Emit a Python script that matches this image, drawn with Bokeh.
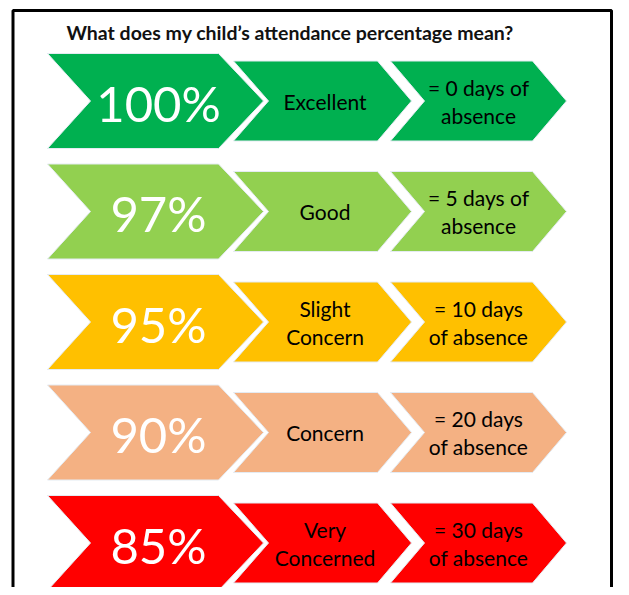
from bokeh.plotting import figure
from bokeh.models import Range1d, ColumnDataSource
from bokeh.core.properties import value
from bokeh.embed import file_html
from bokeh.resources import INLINE

# ---- data ----
title = "What does my child\u2019s attendance percentage mean?"
percentages = ["100%", "97%", "95%", "90%", "85%"]
ratings = ["Excellent", "Good", "Slight\nConcern", "Concern", "Very\nConcerned"]
absences = ["= 0 days of\nabsence", "= 5 days of\nabsence", "= 10 days\nof absence",
            "= 20 days\nof absence", "= 30 days\nof absence"]
colors = ["#00B050", "#92D050", "#FFC000", "#F4B183", "#FF0000"]

# ---- layout constants (reference pixel space) ----
W, H = 613, 587
ROW0, PITCH = 100.5, 110.5
BIG_HALF, SMALL_HALF = 47.5, 40
BIG = (47, 90, 218, 263)      # left, notch, right, tip
MID = (233, 268, 377, 411)
END = (390, 424, 532, 566)

p = figure(width=W, height=H, output_backend="svg", toolbar_location=None,
           x_range=Range1d(0, W), y_range=Range1d(H, 0),
           min_border=0, background_fill_color="white", border_fill_color="white")
p.axis.visible = False
p.grid.visible = False
p.outline_line_color = None

def chevron(shape, cy, half):
    l, n, r, t = shape
    xs = [l, r, t, r, l, n]
    ys = [cy - half, cy - half, cy, cy + half, cy + half, cy]
    return xs, ys

xs, ys, cols = [], [], []
big_x, mid_x, end_x, cys = [], [], [], []
for i, c in enumerate(colors):
    cy = ROW0 + PITCH * i
    cys.append(cy)
    for shape, half in ((BIG, BIG_HALF), (MID, SMALL_HALF), (END, SMALL_HALF)):
        x, y = chevron(shape, cy, half)
        xs.append(x); ys.append(y); cols.append(c)
    big_x.append((BIG[1] + BIG[2]) / 2 + 4)
    mid_x.append((MID[1] + MID[2]) / 2 + 2)
    end_x.append((END[1] + END[2]) / 2)

p.patches(xs=xs, ys=ys, fill_color=cols, line_color="#e4ebf2", line_width=1)

src = ColumnDataSource(dict(bx=big_x, mx=mid_x, ex=end_x, cy=cys,
                            cyp=[c + 1.5 for c in cys],
                            pct=percentages, rat=ratings, ab=absences))
p.text(x="bx", y="cyp", text="pct", source=src, text_color="white",
       text_font=value("Lato"), text_font_size="49px",
       text_align="center", text_baseline="middle")
p.text(x="mx", y="cy", text="rat", source=src, text_color="black",
       text_font=value("Lato"), text_font_size="21px", text_line_height=1.12,
       text_align="center", text_baseline="middle")
p.text(x="ex", y="cy", text="ab", source=src, text_color="black",
       text_font=value("Lato"), text_font_size="21px", text_line_height=1.12,
       text_align="center", text_baseline="middle")

# title
p.text(x=[66], y=[32], text=[title], text_color="#111111",
       text_font=value("Lato"), text_font_size="19.5px", text_font_style="bold",
       text_align="left", text_baseline="middle")

# frame
p.quad(left=[12.5], right=[611], top=[10], bottom=[700], fill_color=None,
       line_color="black", line_width=3)

open("out.html", "w").write(file_html(p, INLINE))
